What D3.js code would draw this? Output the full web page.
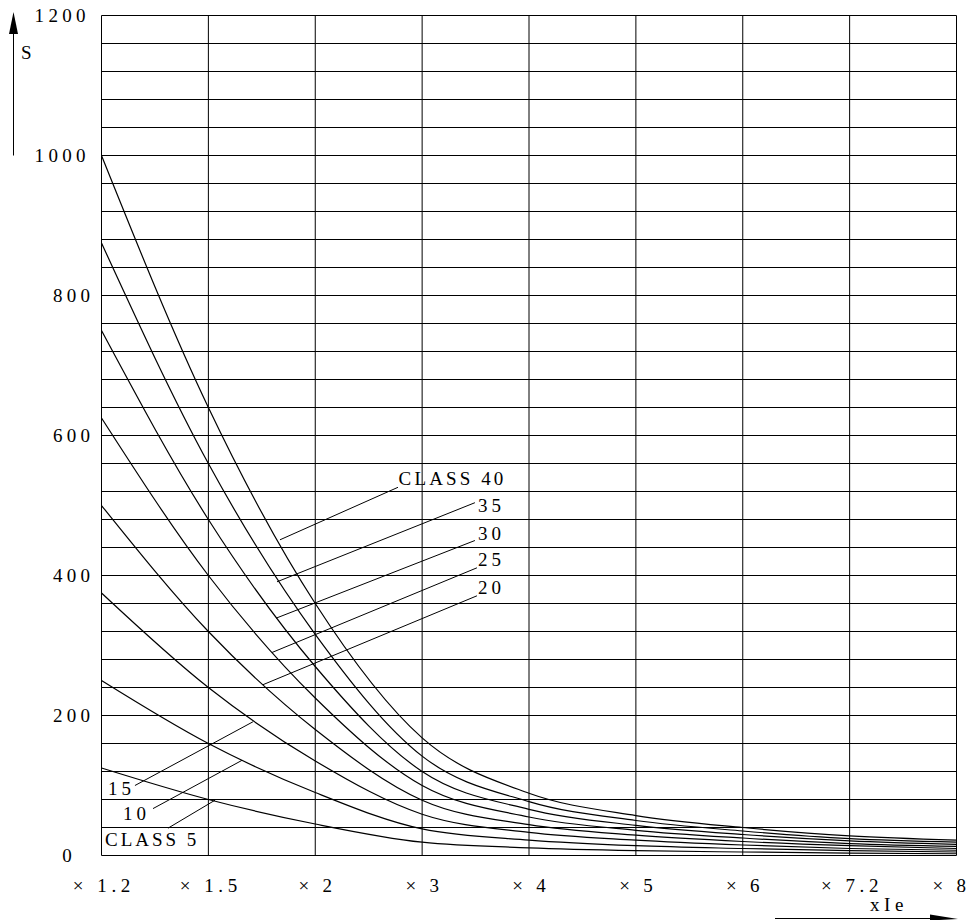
<!DOCTYPE html>
<html>
<head>
<meta charset="utf-8">
<script src="https://cdn.jsdelivr.net/npm/d3@7/dist/d3.min.js"></script>
<style>
body { margin: 0; background: #fff; }
text { font-family: "Liberation Serif", "DejaVu Serif", serif; font-size: 19px; fill: #000; }
</style>
</head>
<body>
<script>
// x categories (multiples of Ie) and y tick labels (seconds)
var xLabels = ["× 1.2", "× 1.5", "× 2", "× 3", "× 4", "× 5", "× 6", "× 7.2", "× 8"];
var yLabels = [0, 200, 400, 600, 800, 1000, 1200];

// trip time per class at each category
var class5  = [125, 80, 45, 19, 11, 7, 5, 3.5, 2.5];
var class10 = [250, 160, 90, 38, 22, 14, 10, 7, 5];
var class15 = [375, 240, 135, 59, 33, 22, 15, 10, 7.5];
var class20 = [500, 320, 180, 79, 44, 29, 20, 14, 10];
var class25 = [625, 400, 225, 100, 55, 36, 25, 17, 13];
var class30 = [750, 480, 270, 120, 66, 43, 30, 21, 16];
var class35 = [875, 560, 316, 142, 77, 50, 35, 24, 19];
var class40 = [1000, 640, 360, 168, 89, 57, 40, 28, 22];

// curve labels with leader lines: [category index, value]
var classNames = ["CLASS 5", "10", "15", "20", "25", "30", "35", "CLASS 40"];
var leaderFrom = [[1.062, 79], [1.315, 136], [1.417, 191], [1.511, 244], [1.595, 290], [1.633, 339], [1.642, 391], [1.670, 451]];
var leaderTo   = [[0.622, 39], [0.482, 67], [0.313, 100], [3.513, 371], [3.513, 411], [3.494, 450], [3.494, 504], [2.774, 526]];
var labelAt    = [[0.033, 14], [0.201, 51], [0.061, 86], [3.523, 373], [3.523, 413], [3.523, 451], [3.523, 491], [2.780, 530]];

var series = [class5, class10, class15, class20, class25, class30, class35, class40];

var w = 968, h = 920;
var svg = d3.select("body").append("svg")
    .attr("width", w)
    .attr("height", h);

var x = d3.scalePoint().domain(xLabels).range([101.5, 956.5]);
var xi = d3.scaleLinear().domain([0, xLabels.length - 1]).range([101.5, 956.5]);
var y = d3.scaleLinear().domain([0, 1200]).range([855.5, 15.5]);

// spread characters like the drawing's fixed-pitch lettering
function spaced(sel, adv) {
    sel.attr("lengthAdjust", "spacing")
       .attr("textLength", function() {
           var n = this.textContent.length;
           return (n - 1) * adv + 9.5;
       });
}

// grid
svg.append("g").selectAll("line")
    .data(d3.range(0, 1201, 40))
    .enter().append("line")
    .attr("x1", x.range()[0]).attr("x2", x.range()[1])
    .attr("y1", function(d) { return y(d); })
    .attr("y2", function(d) { return y(d); })
    .attr("stroke", "#000").attr("stroke-width", 1);

svg.append("g").selectAll("line")
    .data(xLabels)
    .enter().append("line")
    .attr("x1", function(d) { return x(d); })
    .attr("x2", function(d) { return x(d); })
    .attr("y1", y(0)).attr("y2", y(1200))
    .attr("stroke", "#000").attr("stroke-width", 1);

// curves
var line = d3.line()
    .x(function(d, i) { return x(xLabels[i]); })
    .y(function(d) { return y(d); })
    .curve(d3.curveMonotoneX);

svg.append("g").selectAll("path")
    .data(series)
    .enter().append("path")
    .attr("d", line)
    .attr("fill", "none")
    .attr("stroke", "#000")
    .attr("stroke-width", 1.2);

// leader lines and class labels
svg.append("g").selectAll("line")
    .data(classNames)
    .enter().append("line")
    .attr("x1", function(d, i) { return xi(leaderFrom[i][0]); })
    .attr("y1", function(d, i) { return y(leaderFrom[i][1]); })
    .attr("x2", function(d, i) { return xi(leaderTo[i][0]); })
    .attr("y2", function(d, i) { return y(leaderTo[i][1]); })
    .attr("stroke", "#000").attr("stroke-width", 1);

svg.append("g").selectAll("text")
    .data(classNames)
    .enter().append("text")
    .attr("x", function(d, i) { return xi(labelAt[i][0]); })
    .attr("y", function(d, i) { return y(labelAt[i][1]); })
    .text(function(d) { return d; })
    .call(spaced, 13.6);

// y tick labels
svg.append("g").selectAll("text")
    .data(yLabels)
    .enter().append("text")
    .attr("x", function(d) { return d == 0 ? 67 : (d >= 1000 ? 85.5 : 90); })
    .attr("y", function(d) { return y(d) + 6.5; })
    .attr("text-anchor", function(d) { return d == 0 ? "middle" : "end"; })
    .text(function(d) { return d; })
    .call(spaced, 13.8);

// x tick labels
svg.append("g").selectAll("text")
    .data(xLabels)
    .enter().append("text")
    .attr("x", function(d, i) { return i == xLabels.length - 1 ? 966 : x(d); })
    .attr("y", 892)
    .attr("text-anchor", function(d, i) { return i == xLabels.length - 1 ? "end" : "middle"; })
    .text(function(d) { return d; })
    .call(spaced, 12);

// axis arrows and names
svg.append("line")
    .attr("x1", 13.5).attr("x2", 13.5)
    .attr("y1", y(1000)).attr("y2", 30)
    .attr("stroke", "#000").attr("stroke-width", 1);
svg.append("path")
    .attr("d", "M13.5,12 L9,34 L18,34 Z")
    .attr("fill", "#000");
svg.append("text")
    .attr("x", 21).attr("y", 59)
    .text("S");

svg.append("line")
    .attr("x1", 775).attr("x2", 935)
    .attr("y1", 918.5).attr("y2", 918.5)
    .attr("stroke", "#000").attr("stroke-width", 1);
svg.append("path")
    .attr("d", "M930,914.5 L958,919 L930,920.5 Z")
    .attr("fill", "#000");
svg.append("text")
    .attr("x", 870).attr("y", 911)
    .text("xIe")
    .call(spaced, 12);
</script>
</body>
</html>
